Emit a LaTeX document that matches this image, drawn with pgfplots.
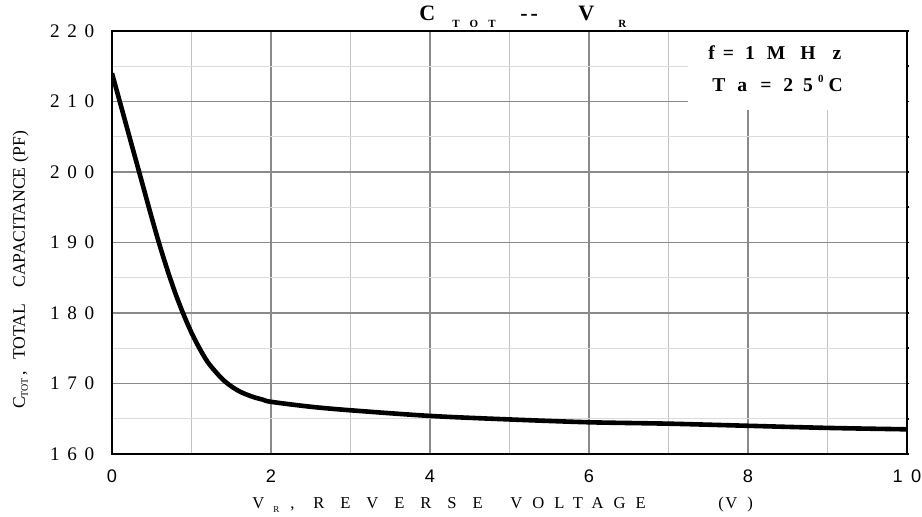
\documentclass[border=0pt]{standalone}
\usepackage{fontspec}
\setmainfont{Liberation Serif}
\newfontfamily\sansf{Liberation Sans}
\newfontfamily\lsA[LetterSpace=96]{Liberation Serif}
\newfontfamily\lsB[LetterSpace=60]{Liberation Serif}
\usepackage{pgfplots}
\pgfplotsset{compat=1.18}
\begin{document}
\begin{tikzpicture}
\begin{axis}[
  scale only axis, width=397.5pt, height=211.5pt,
  xmin=0, xmax=10, ymin=160, ymax=220,
  xtick={0,2,4,6,8,10}, ytick={160,170,180,190,200,210,220},
  minor x tick num=1, minor y tick num=1,
  grid=both,
  major x grid style={draw=black!46, line width=0.55pt},
  major y grid style={draw=black!46, line width=0.55pt},
  minor x grid style={draw=black!24, line width=0.55pt},
  minor y grid style={draw=black!14, line width=0.55pt},
  xtick pos=bottom, xticklabel pos=bottom,
  ytick pos=right, yticklabel pos=left,
  tick align=outside,
  major tick length=1.2pt, minor tick length=1.2pt,
  every tick/.style={black, line width=0.8pt},
  xtick style={draw=none},
  axis line style={line width=1pt, black},
  xticklabels={0,2,4,6,8,1\hspace{4.2pt}0},
  yticklabels={1\hspace{3.8pt}6\hspace{3.8pt}0,1\hspace{3.8pt}7\hspace{3.8pt}0,1\hspace{3.8pt}8\hspace{3.8pt}0,1\hspace{3.8pt}9\hspace{3.8pt}0,2\hspace{3.8pt}0\hspace{3.8pt}0,2\hspace{3.8pt}1\hspace{3.8pt}0,2\hspace{3.8pt}2\hspace{3.8pt}0},
  xticklabel style={font=\sansf\fontsize{9.1}{10}\selectfont, inner sep=0pt, anchor=north, yshift=-6.5pt},
  yticklabel style={font=\fontsize{9.6}{10}\selectfont, inner sep=0pt, anchor=east, xshift=-7.5pt},
]
\addplot[black, line width=2.3pt, smooth] coordinates {
(0,214) (0.1,209.9) (0.2,205.8) (0.3,201.7) (0.4,197.6) (0.5,193.5) (0.6,189.6)
(0.7,186.0) (0.8,182.7) (0.9,179.8) (1.0,177.2) (1.1,175.0) (1.2,173.1) (1.3,171.7)
(1.4,170.5) (1.5,169.6) (1.6,168.9) (1.7,168.4) (1.8,168.0) (1.9,167.7) (2,167.4)
(2.5,166.7) (3,166.2) (4,165.4) (5,164.9) (6,164.5) (7,164.3) (8,164.0) (9,163.7) (10,163.5)};
\coordinate (O) at (rel axis cs:0,0);
\end{axis}
% legend box
\fill[white] ([shift={(288pt,172pt)}]O) rectangle ([shift={(397pt,211pt)}]O);
\begin{scope}[every node/.style={inner sep=0pt, anchor=base west, font=\bfseries\fontsize{9.8}{11}\selectfont}]
\node at ([shift={(298pt,197pt)}]O) {f\hspace{4pt}=\hspace{5.5pt}1\hspace{6pt}M\hspace{7.5pt}H\hspace{8.5pt}z};
\node at ([shift={(300pt,181.2pt)}]O) {T\hspace{6pt}a\hspace{6.5pt}=\hspace{6pt}2\hspace{5pt}5\hspace{2.5pt}\raisebox{4.5pt}{\fontsize{5.5}{6}\selectfont 0}\hspace{2.5pt}C};
\end{scope}
% title
\begin{scope}[every node/.style={inner sep=0pt, anchor=base west}]
\node[font=\bfseries\fontsize{11}{12}\selectfont] at ([shift={(153.5pt,216.5pt)}]O) {C};
\node[font=\bfseries\fontsize{5.5}{6}\selectfont] at ([shift={(170pt,213pt)}]O) {T\hspace{5pt}O\hspace{5pt}T};
\node[font=\bfseries\fontsize{11}{12}\selectfont] at ([shift={(204pt,216.5pt)}]O) {-\hspace{1.5pt}-};
\node[font=\bfseries\fontsize{11}{12}\selectfont] at ([shift={(233pt,216.5pt)}]O) {V};
\node[font=\bfseries\fontsize{5.5}{6}\selectfont] at ([shift={(253pt,213pt)}]O) {R};
% x label
\node[font=\fontsize{8.3}{9}\selectfont] at ([shift={(70pt,-27.5pt)}]O) {V};
\node[font=\fontsize{4.5}{5}\selectfont] at ([shift={(80.5pt,-29.5pt)}]O) {R};
\node[font=\fontsize{8.3}{9}\selectfont] at ([shift={(89pt,-27.5pt)}]O) {,};
\node[font=\lsA\fontsize{8.3}{9}\selectfont] at ([shift={(100.5pt,-27.5pt)}]O) {REVERSE};
\node[font=\lsB\fontsize{8.3}{9}\selectfont] at ([shift={(199pt,-27.5pt)}]O) {VOLTAGE};
\node[font=\fontsize{8.3}{9}\selectfont] at ([shift={(303pt,-27.5pt)}]O) {(};
\node[font=\fontsize{8.3}{9}\selectfont] at ([shift={(306.5pt,-27.5pt)}]O) {V};
\node[font=\fontsize{8.3}{9}\selectfont] at ([shift={(317.5pt,-27.5pt)}]O) {)};
\end{scope}
% y label
\node[inner sep=0pt, anchor=base, rotate=90, font=\fontsize{8.8}{9}\selectfont] at ([shift={(-43.5pt,92pt)}]O)
  {C\raisebox{-1.5pt}{\fontsize{5}{6}\selectfont TOT}\hspace{1pt},\hspace{6pt}TOTAL\hspace{8pt}CAPACITANCE\hspace{2.5pt}(PF)};
\pgfresetboundingbox
\path[use as bounding box] ([shift={(-56pt,-31.5pt)}]O) rectangle ([shift={(405pt,227pt)}]O);
\end{tikzpicture}
\end{document}
